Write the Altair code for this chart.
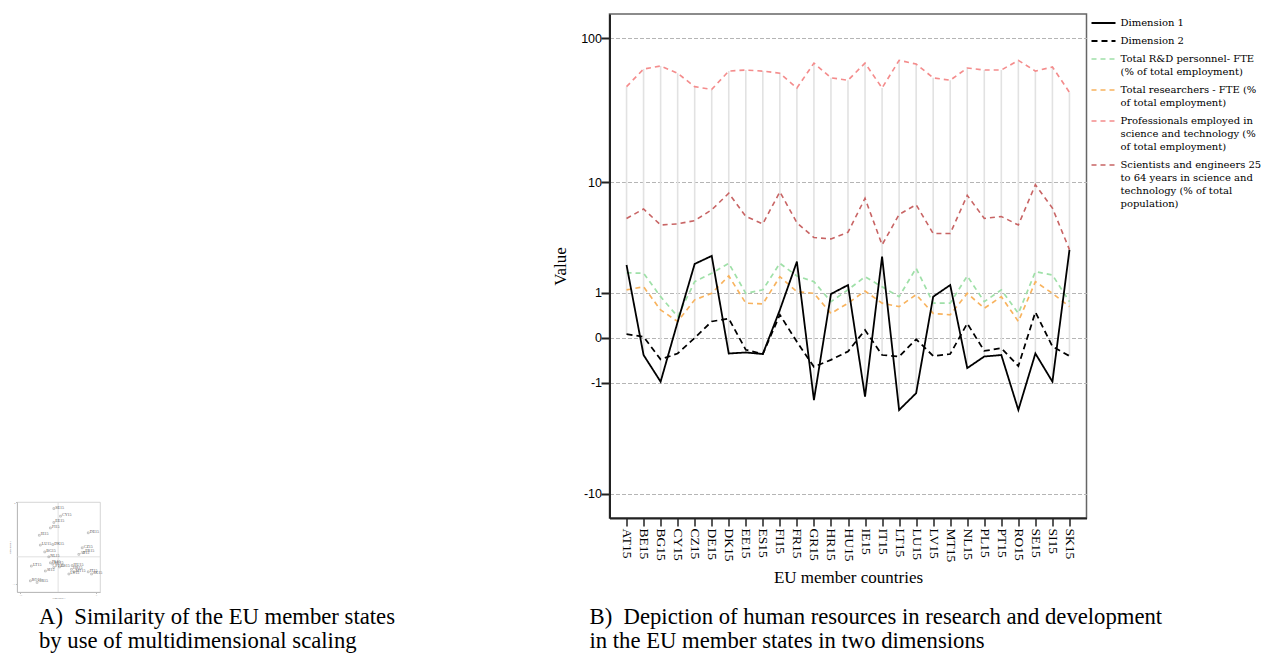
import altair as alt
import pandas as pd

# ---------------- data (panel B) ----------------
countries = ["AT15", "BE15", "BG15", "CY15", "CZ15", "DE15", "DK15", "EE15", "ES15",
             "FI15", "FR15", "GR15", "HR15", "HU15", "IE15", "IT15", "LT15", "LU15",
             "LV15", "MT15", "NL15", "PL15", "PT15", "RO15", "SE15", "SI15", "SK15"]

dimension_1 = [2.08, -0.30, -0.96, 0.28, 2.13, 2.54, -0.27, -0.25, -0.28, 0.54, 2.24, -1.60,
               0.97, 1.26, -1.47, 2.50, -2.03, -1.34, 0.89, 1.26, -0.59, -0.33, -0.30, -2.03,
               -0.27, -0.96, 2.88]
dimension_2 = [0.06, 0.02, -0.39, -0.27, 0.00, 0.29, 0.35, -0.20, -0.28, 0.43, -0.06, -0.56,
               -0.40, -0.23, 0.13, -0.30, -0.33, -0.02, -0.32, -0.28, 0.25, -0.22, -0.17, -0.54,
               0.49, -0.14, -0.32]
rd_personnel = [1.73, 1.71, 0.89, 0.39, 1.38, 1.71, 2.16, 0.99, 1.10, 2.16, 1.60, 1.38, 0.75,
                1.10, 1.57, 1.20, 0.89, 1.93, 0.71, 0.71, 1.60, 0.75, 1.10, 0.46, 1.78, 1.64, 0.75]
researchers = [1.10, 1.20, 0.54, 0.29, 0.80, 0.99, 1.60, 0.71, 0.69, 1.57, 1.04, 0.99, 0.46,
               0.71, 1.06, 0.71, 0.62, 0.95, 0.46, 0.43, 0.99, 0.58, 0.89, 0.29, 1.38, 0.99, 0.62]
professionals = [47, 62, 65, 58, 47, 45, 60, 61, 60, 58, 46, 68, 54, 52, 68, 46, 71, 67, 54, 52,
                 63, 61, 61, 71, 60, 64, 43]
scientists = [5.3, 6.3, 4.7, 4.8, 5.1, 6.2, 8.3, 5.5, 4.8, 8.5, 4.9, 3.7, 3.6, 4.1, 7.6, 3.2,
              5.7, 6.8, 4.0, 4.0, 8.0, 5.3, 5.5, 4.7, 9.6, 6.4, 2.9]

series_names = [
    "Dimension 1",
    "Dimension 2",
    "Total R&D personnel- FTE|(% of total employment)",
    "Total researchers - FTE (%|of total employment)",
    "Professionals employed in|science and technology (%|of total employment)",
    "Scientists and engineers 25|to 64 years in science and|technology (% of total|population)",
]
series_values = [dimension_1, dimension_2, rd_personnel, researchers, professionals, scientists]
series_colors = ["#000000", "#000000", "#9fe0a8", "#f8b35e", "#f48c8c", "#c86464"]
series_dashes = [[1, 0], [6, 4], [5, 4], [5, 4], [5, 4], [5, 4]]
series_widths = [1.8, 1.6, 1.3, 1.3, 1.3, 1.3]
y_ticks = [-10, -1, 0, 1, 10, 100]

# ---------------- data (panel A thumbnail) ----------------
mds_labels = ["RO15", "LT15", "GR15", "IE15", "LU15", "BG15", "SI15", "NL15", "FI15", "PL15",
              "DK15", "BE15", "SE15", "EE15", "PT15", "ES15", "CY15", "LV15", "HR15", "HU15",
              "MT15", "AT15", "CZ15", "FR15", "DE15", "IT15", "SK15"]
mds_dim1 = [-2.20, -2.12, -1.67, -1.49, -1.41, -1.06, -1.01, -0.74, -0.61, -0.61, -0.42, -0.42,
            -0.34, -0.34, -0.34, 0.11, 0.19, 0.85, 1.06, 1.11, 1.25, 1.64, 1.91, 2.04, 2.39,
            2.39, 2.65]
mds_dim2 = [-0.88, -0.34, -0.94, 0.79, 0.43, 0.18, -0.52, 0.00, 1.06, -0.22, 0.45, -0.27, 1.77,
            1.26, -0.39, -0.37, 1.49, -0.63, -0.46, -0.32, -0.55, 0.09, 0.33, 0.16, 0.88, -0.55,
            -0.63]
mds_x_ticks = [-3, -2, -1, 0, 1, 2, 3]
mds_y_ticks = [-1, -0.5, 0, 0.5, 1, 1.5, 2]

caption_a = ["A)\u00a0\u00a0Similarity of the EU member states",
             "\u00a0\u00a0\u00a0\u00a0\u00a0\u00a0by use of multidimensional scaling"]
caption_b = ["B)\u00a0\u00a0Depiction of human resources in research and development",
             "\u00a0\u00a0\u00a0\u00a0\u00a0\u00a0in the EU member states in two dimensions"]

# ---------------- tables ----------------
rows = []
# colored series first so the black lines are drawn on top
for order, idx in enumerate([5, 4, 3, 2, 1, 0]):
    for c, v in zip(countries, series_values[idx]):
        rows.append({"country": c, "series": series_names[idx], "value": v, "order": order})
df = pd.DataFrame(rows)

mds_df = pd.DataFrame({"label": mds_labels, "d1": mds_dim1, "d2": mds_dim2})
zero_df = pd.DataFrame({"z": [0]})

SERIF = "Liberation Serif"
SANS = "Liberation Sans"

# ---------------- panel B ----------------
x_enc = alt.X("country:N", sort=countries,
              scale=alt.Scale(type="point", padding=1.45),
              axis=alt.Axis(title="EU member countries", labelAngle=90, labelFont=SERIF,
                            labelFontSize=13.5, labelColor="#000", tickSize=8, tickColor="#222",
                            tickWidth=1.5, domainColor="#222", domainWidth=2, labelPadding=2,
                            titleFont=SERIF, titleFontSize=17, titleFontWeight="normal",
                            titleColor="#000", titlePadding=8, grid=False))
y_scale = alt.Scale(type="symlog", constant=1, domain=[-15, 146], nice=False, zero=False)
y_axis = alt.Axis(title="Value", values=y_ticks, labelExpr="'' + datum.value",
                  labelFont=SANS, labelFontSize=12.5, labelColor="#000", tickSize=8.5,
                  tickColor="#222", tickWidth=2, domainColor="#222", domainWidth=2,
                  labelPadding=-0.5, grid=True, gridColor="#b5b5b5", gridDash=[4, 2],
                  gridWidth=1.2, titleFont=SERIF, titleFontSize=17, titleFontWeight="normal",
                  titleColor="#000", titlePadding=11)

legend = alt.Legend(title=None, orient="none", legendX=1073.5, legendY=-4,
                    symbolType="stroke", symbolSize=576, symbolStrokeWidth=1.5,
                    labelFont="DejaVu Serif", labelFontSize=10, labelColor="#000",
                    labelLimit=300, labelOffset=4, rowPadding=0,
                    labelExpr="split(datum.label, '|')")

drops = alt.Chart(df).mark_rule(color="#e2e2e2", strokeWidth=1.6).encode(
    x=x_enc,
    y=alt.Y("min(value):Q", scale=y_scale, axis=y_axis),
    y2="max(value):Q",
)

lines = alt.Chart(df).mark_line().encode(
    x=x_enc,
    y=alt.Y("value:Q", scale=y_scale, axis=y_axis),
    color=alt.Color("series:N", scale=alt.Scale(domain=series_names, range=series_colors),
                    legend=legend),
    strokeDash=alt.StrokeDash("series:N",
                              scale=alt.Scale(domain=series_names, range=series_dashes),
                              legend=legend),
    strokeWidth=alt.StrokeWidth("series:N",
                                scale=alt.Scale(domain=series_names, range=series_widths),
                                legend=None),
    order=alt.Order("order:Q"),
    detail="series:N",
)

chart_b = alt.layer(drops, lines).properties(
    width=477, height=504,
    view=alt.ViewBackground(stroke="#666666", strokeWidth=1.5),
    title=alt.TitleParams(text=caption_b, orient="bottom", anchor="start", frame="group",
                          dx=-20, offset=20, font=SERIF, fontSize=22.7, fontWeight="normal",
                          color="#000", lineHeight=24),
)

# ---------------- panel A (thumbnail) ----------------
tx = alt.X("d1:Q", scale=alt.Scale(domain=[-3.26, 3.32], nice=False, zero=False),
           axis=alt.Axis(values=mds_x_ticks, grid=False, labelFontSize=2.5, tickSize=1.5,
                         labelPadding=0.5, title="Dimension 1", titleFontSize=2.5,
                         titlePadding=0.5, titleFontWeight="normal", domainColor="#bbb",
                         tickColor="#bbb", labelColor="#777", titleColor="#777"))
ty = alt.Y("d2:Q", scale=alt.Scale(domain=[-1.29, 2.01], nice=False, zero=False),
           axis=alt.Axis(values=mds_y_ticks, grid=False, labelFontSize=2.5, tickSize=1.5,
                         labelPadding=0.5, title="Dimension 2", titleFontSize=2.5,
                         titlePadding=0.5, titleFontWeight="normal", domainColor="#bbb",
                         tickColor="#bbb", labelColor="#777", titleColor="#777"))

zero_x = alt.Chart(zero_df).mark_rule(color="#d8d8d8", strokeWidth=0.8).encode(
    x=alt.X("z:Q", scale=alt.Scale(domain=[-3.26, 3.32], nice=False, zero=False)))
zero_y = alt.Chart(zero_df).mark_rule(color="#d8d8d8", strokeWidth=0.8).encode(
    y=alt.Y("z:Q", scale=alt.Scale(domain=[-1.29, 2.01], nice=False, zero=False)))
pts = alt.Chart(mds_df).mark_point(shape="square", size=3, color="#666", strokeWidth=0.5).encode(
    x=tx, y=ty)
labs = alt.Chart(mds_df).mark_text(fontSize=4, align="left", dx=1.5, dy=-1, color="#555").encode(
    x=tx, y=ty, text="label:N")

thumb = alt.layer(zero_x, zero_y, pts, labs).properties(
    width=83, height=90,
    view=alt.ViewBackground(stroke="#cccccc", strokeWidth=0.8),
    title=alt.TitleParams(text=caption_a, orient="bottom", anchor="start", frame="group",
                          dx=22, offset=6, font=SERIF, fontSize=22.7, fontWeight="normal",
                          color="#000", lineHeight=24),
)

spacer = alt.Chart(zero_df).mark_point(opacity=0).properties(
    width=83, height=486, view=alt.ViewBackground(strokeOpacity=0))

col_a = alt.vconcat(spacer, thumb, spacing=0)

chart = alt.hconcat(col_a, chart_b, spacing=154.5).properties(
    padding={"left": 0, "top": 2, "right": 0, "bottom": 0}
).configure(font=SERIF, style={"guide-label": {"lineHeight": 13}})

chart.save("out.html", embed_options={"renderer": "svg", "actions": False})
